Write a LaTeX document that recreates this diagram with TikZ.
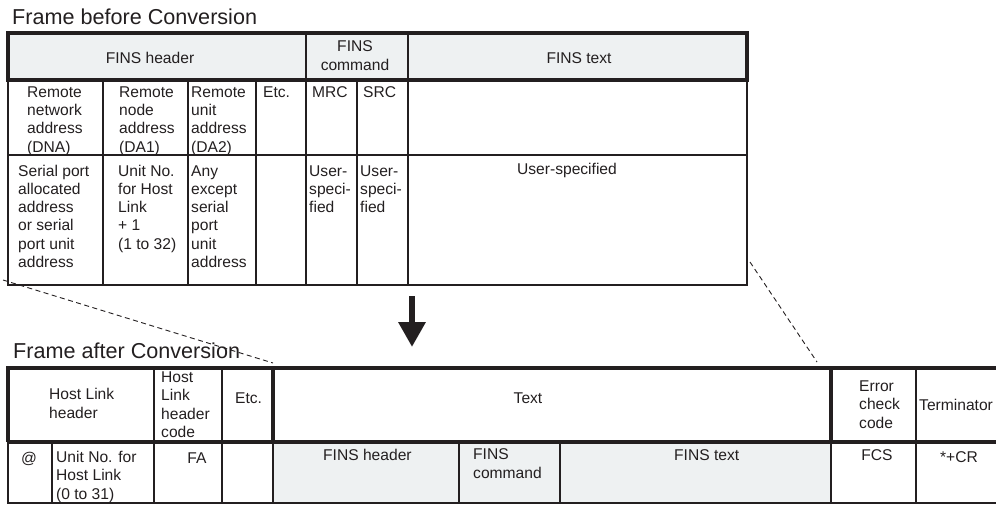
\documentclass[tikz,border=0pt]{standalone}
\usepackage{fontspec}
\setmainfont{Liberation Sans}
\usetikzlibrary{arrows.meta}
\definecolor{ink}{HTML}{231F20}
\definecolor{cellshade}{HTML}{EEF1F2}
\begin{document}
\begin{tikzpicture}[x=1pt,y=-1pt,
  thinline/.style={draw=ink,line width=1.1pt},
  thickline/.style={draw=ink,line width=3.2pt},
  cell/.style={inner sep=0pt,text=ink,font=\fontsize{15.6}{18.3}\selectfont,align=left,anchor=base west},
  cellc/.style={cell,align=center,anchor=base},
  titletext/.style={inner sep=0pt,text=ink,font=\fontsize{21.6}{24}\selectfont,anchor=base west},
  dashline/.style={draw=ink,line width=0.9pt,dash pattern=on 5pt off 3.5pt}]
\useasboundingbox (0,0) rectangle (996,504);

% ---------- titles
\node[titletext] (t1) at (12,24) {Frame before Conversion};
\node[titletext] (t2) at (13,358) {Frame after Conversion};

% ---------- top table
\fill[cellshade] (8,33) rectangle (747,80);
\draw[thinline] (8,80) -- (8,285) -- (747,285) -- (747,80);
\draw[thinline] (8,155) -- (747,155);
\foreach \x in {103,188,256,357} \draw[thinline] (\x,80) -- (\x,285);
\foreach \x in {306,408} \draw[thinline] (\x,33) -- (\x,285);
\draw[thickline] (8,33) rectangle (747,80);

% (multi-line nodes: the base anchor is the baseline of the last line)
\node[cellc] (h1) at (150,63) {FINS header};
\node[cellc] (h2) at (355,70) {FINS\\command};
\node[cellc] (h3) at (579,63) {FINS text};

\node[cell] (r1) at (27,152) {Remote\\network\\address\\(DNA)};
\node[cell] (r2) at (119,152) {Remote\\node\\address\\(DA1)};
\node[cell] (r3) at (191,152) {Remote\\unit\\address\\(DA2)};
\node[cell] (r4) at (263,97) {Etc.};
\node[cell] (r5) at (312,97) {MRC};
\node[cell] (r6) at (363,97) {SRC};

\node[cell] (v1) at (18,267.5) {Serial port\\allocated\\address\\or serial\\port unit\\address};
\node[cell] (v2) at (118,249.2) {Unit No.\\for Host\\Link\\+ 1\\(1 to 32)};
\node[cell] (v3) at (191,267.5) {Any\\except\\serial\\port\\unit\\address};
\node[cell] (v4) at (309,212.6) {User-\\speci-\\fied};
\node[cell] (v5) at (360,212.6) {User-\\speci-\\fied};
\node[cellc] (v6) at (567,174) {User-specified};

% ---------- arrow
\coordinate (atop) at (412,296);
\coordinate (atip) at (412,347);
\draw[ink,line width=6.5pt,-{Triangle[width=26pt,length=25pt]}] (atop) -- (atip);

% ---------- dashed guide lines
\coordinate (dl1) at (3,280);
\coordinate (dl2) at (273,363);
\coordinate (dr1) at (750,262);
\coordinate (dr2) at (817,362);
\draw[dashline] (dl1) -- (dl2);
\draw[dashline] (dr1) -- (dr2);

% ---------- bottom table
\fill[cellshade] (273,442) rectangle (831,503);
\draw[thinline] (8,442) -- (8,503) -- (997,503);
\foreach \x in {154,222,916} \draw[thinline] (\x,368) -- (\x,503);
\foreach \x in {52,273,459,560,831} \draw[thinline] (\x,442) -- (\x,503);
\draw[thickline] (8,442) -- (8,368) -- (998,368);
\draw[thickline] (7,442) -- (998,442);
\draw[thickline] (273,368) -- (273,442);
\draw[thickline] (831,368) -- (831,442);

\node[cell] (b1) at (49,418) {Host Link\\header};
\node[cell] (b2) at (161,437.5) {Host\\Link\\header\\code};
\node[cell] (b3) at (235,403) {Etc.};
\node[cellc] (b4) at (528,403) {Text};
\node[cell] (b5) at (859,428) {Error\\check\\code};
\node[cell] (b6) at (919,410) {Terminator};

\node[cellc] (c1) at (29,463) {@};
\node[cell] (c2) at (56,499) {Unit No. for\\Host Link\\(0 to 31)};
\node[cellc] (c3) at (197,463) {FA};
\node[cell] (c4) at (323,460) {FINS header};
\node[cell] (c5) at (473,478) {FINS\\command};
\node[cell] (c6) at (674,460) {FINS text};
\node[cellc] (c7) at (877,460) {FCS};
\node[cellc] (c8) at (959,462) {*+CR};
\end{tikzpicture}
\end{document}
